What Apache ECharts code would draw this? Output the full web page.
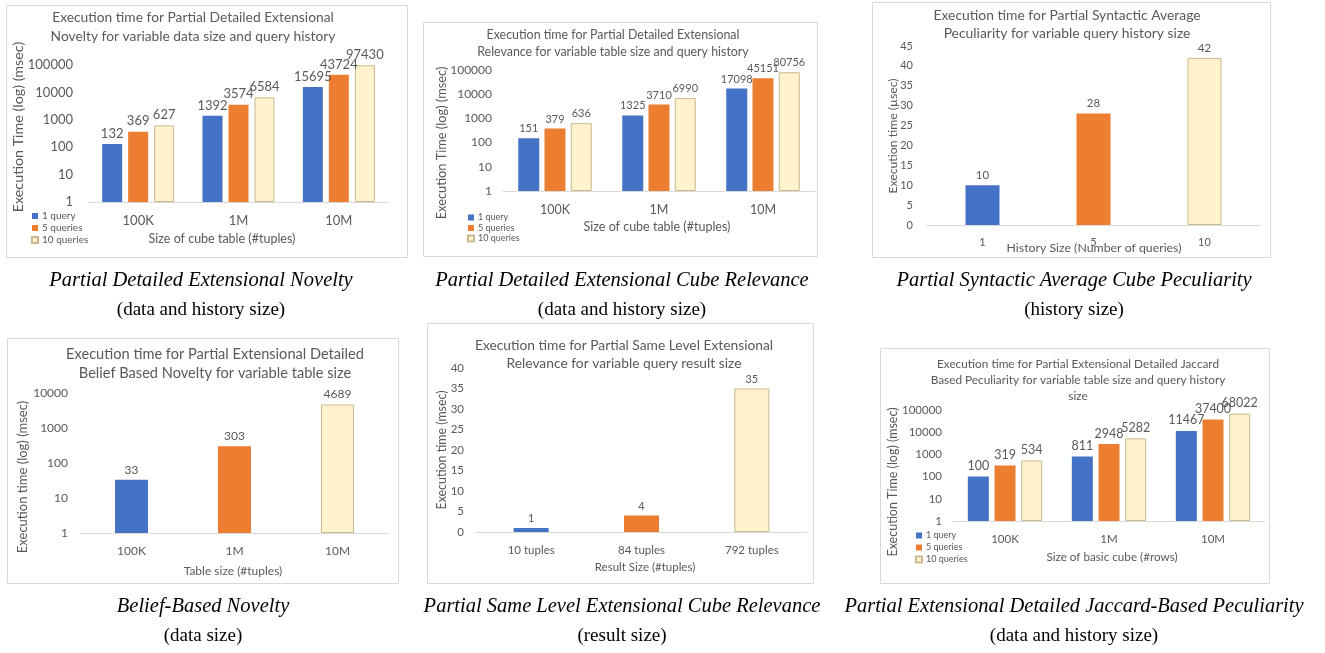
<!DOCTYPE html>
<html>
<head>
<meta charset="utf-8">
<script src="https://cdn.jsdelivr.net/npm/echarts@6/dist/echarts.min.js"></script>
<style>
html,body{margin:0;padding:0;background:#fff;}
#chart{width:1325px;height:653px;}
</style>
</head>
<body>
<div id="chart"></div>
<script>
// ---------- data ----------
const sizeCategories = ['100K', '1M', '10M'];
const seriesNames = ['1 query', '5 queries', '10 queries'];

const noveltyQ1 = [132, 1392, 15695];
const noveltyQ5 = [369, 3574, 43724];
const noveltyQ10 = [627, 6584, 97430];

const relevanceQ1 = [151, 1325, 17098];
const relevanceQ5 = [379, 3710, 45151];
const relevanceQ10 = [636, 6990, 80756];

const historyCategories = ['1', '5', '10'];
const peculiarityValues = [10, 28, 42];

const beliefCategories = ['100K', '1M', '10M'];
const beliefValues = [33, 303, 4689];

const resultCategories = ['10 tuples', '84 tuples', '792 tuples'];
const sameLevelValues = [1, 4, 35];

const jaccardQ1 = [100, 811, 11467];
const jaccardQ5 = [319, 2948, 37400];
const jaccardQ10 = [534, 5282, 68022];

const logTicks = [1, 10, 100, 1000, 10000, 100000];
const linTicks45 = [0, 5, 10, 15, 20, 25, 30, 35, 40, 45];
const linTicks40 = [0, 5, 10, 15, 20, 25, 30, 35, 40];

// ---------- style ----------
const BLUE = '#4472C4', ORANGE = '#ED7D31', CREAM = '#FFF2CC', CREAM_BORDER = '#C9B98E';
const GRAY = '#595959', LINE = '#D9D9D9';
const FONT = 'Lato';
const colors = [BLUE, ORANGE, CREAM];

function itemStyleFor(i) {
  return i === 2 ? { color: CREAM, borderColor: CREAM_BORDER, borderWidth: 1 } : { color: colors[i], borderColor: colors[i], borderWidth: 0 };
}

const grids = [
  { left: 88, top: 65, width: 301, height: 137 },
  { left: 503, top: 70, width: 312, height: 121 },
  { left: 927, top: 46, width: 333, height: 179 },
  { left: 80, top: 393, width: 309, height: 140 },
  { left: 476, top: 368, width: 331, height: 164 },
  { left: 953, top: 410, width: 312, height: 111 }
];

const catFont = [13, 12.5, 11, 12, 11.5, 11.5];
const valFont = [13, 12, 11, 12, 11.5, 11.5];
const valMargin = [15, 11, 14, 12, 12, 11];
const catData = [sizeCategories, sizeCategories, historyCategories, beliefCategories, resultCategories, sizeCategories];

const xAxes = catData.map((d, i) => ({
  type: 'category', gridIndex: i, data: d,
  axisLine: { onZero: false, lineStyle: { color: LINE, width: 1 } },
  axisTick: { show: false },
  axisLabel: { color: GRAY, fontSize: catFont[i], fontFamily: FONT, margin: 12 }
}));

function logAxis(i) {
  return {
    type: 'log', logBase: 10, gridIndex: i, min: logTicks[0], max: logTicks[logTicks.length - 1],
    axisLine: { show: false }, axisTick: { show: false }, splitLine: { show: false },
    axisLabel: { color: GRAY, fontSize: valFont[i], fontFamily: FONT, margin: valMargin[i],
      formatter: v => String(Math.round(v)) }
  };
}
function linAxis(i, ticks) {
  return {
    type: 'value', gridIndex: i, min: ticks[0], max: ticks[ticks.length - 1], interval: ticks[1] - ticks[0],
    axisLine: { show: false }, axisTick: { show: false }, splitLine: { show: false },
    axisLabel: { color: GRAY, fontSize: valFont[i], fontFamily: FONT, margin: valMargin[i] }
  };
}
const yAxes = [logAxis(0), logAxis(1), linAxis(2, linTicks45),
  Object.assign(logAxis(3), { max: 10000 }), linAxis(4, linTicks40), logAxis(5)];

function groupSeries(gi, arrays, labelSize, barWidth, barGap) {
  return arrays.map((arr, k) => ({
    name: seriesNames[k], type: 'bar', xAxisIndex: gi, yAxisIndex: gi,
    data: arr, barWidth: barWidth, barGap: barGap,
    itemStyle: itemStyleFor(k),
    label: { show: true, position: 'top', distance: 4, color: GRAY, fontSize: labelSize, fontFamily: FONT },
    animation: false
  }));
}
function singleSeries(gi, arr, labelSize, barWidth) {
  return [{
    type: 'bar', xAxisIndex: gi, yAxisIndex: gi, barWidth: barWidth,
    data: arr.map((v, k) => ({ value: v, itemStyle: itemStyleFor(k) })),
    label: { show: true, position: 'top', distance: 4, color: GRAY, fontSize: labelSize, fontFamily: FONT },
    animation: false
  }];
}

const series = [].concat(
  groupSeries(0, [noveltyQ1, noveltyQ5, noveltyQ10], 13, 20, '30%'),
  groupSeries(1, [relevanceQ1, relevanceQ5, relevanceQ10], 11, 21, '25%'),
  singleSeries(2, peculiarityValues, 11.5, 34),
  singleSeries(3, beliefValues, 12, 33),
  singleSeries(4, sameLevelValues, 11, 35),
  groupSeries(5, [jaccardQ1, jaccardQ5, jaccardQ10], 12.5, 21, '27%')
);

function legendAt(left, top, fontSize, gap) {
  return {
    data: seriesNames, orient: 'vertical', left: left, top: top, padding: 0,
    icon: 'rect', itemWidth: 6, itemHeight: 6, itemGap: gap, selectedMode: false,
    textStyle: { color: GRAY, fontSize: fontSize, fontFamily: FONT, padding: [0, 0, 0, -1] }
  };
}

// ---------- text helpers ----------
function txt(x, y, text, size, extra) {
  return Object.assign({
    type: 'text', x: x, y: y, silent: true,
    style: Object.assign({ text: text, fontSize: size, fontFamily: FONT, fill: GRAY, align: 'center', verticalAlign: 'middle' }, (extra && extra.style) || {})
  }, extra && extra.rotation !== undefined ? { rotation: extra.rotation } : {});
}
function rect(x1, y1, x2, y2) {
  return { type: 'rect', silent: true, shape: { x: x1 + 0.5, y: y1 + 0.5, width: x2 - x1, height: y2 - y1 },
    style: { fill: 'none', stroke: LINE, lineWidth: 1 }, z: -1 };
}
const ROT = Math.PI / 2;
function caption(x, y, l1, l2) {
  return [
    txt(x, y, l1, 20.5, { style: { fontFamily: 'Liberation Serif', fontStyle: 'italic', fill: '#000' } }),
    txt(x, y + 29, l2, 19, { style: { fontFamily: 'Liberation Serif', fill: '#000' } })
  ];
}

const graphics = [
  rect(6, 5, 407, 257), rect(423, 22, 817, 256), rect(872, 2, 1270, 257),
  rect(7, 338, 398, 583), rect(427, 323, 813, 583), rect(880, 348, 1269, 583),
  // titles
  txt(193, 27.5, 'Execution time for Partial Detailed Extensional\nNovelty for variable data size and query history', 13.8, { style: { lineHeight: 19 } }),
  txt(613, 43.5, 'Execution time for Partial Detailed Extensional\nRelevance for variable table size and query history', 12.4, { style: { lineHeight: 17 } }),
  txt(1067, 25, 'Execution time for Partial Syntactic Average\nPeculiarity for variable query history size', 13.9, { style: { lineHeight: 18 } }),
  txt(215, 363.5, 'Execution time for Partial Extensional Detailed\nBelief Based Novelty for variable table size', 14.6, { style: { lineHeight: 19 } }),
  txt(624, 355, 'Execution time for Partial Same Level Extensional\nRelevance for variable query result size', 13.8, { style: { lineHeight: 18 } }),
  txt(1078, 380, 'Execution time for Partial Extensional Detailed Jaccard\nBased Peculiarity for variable table size and query history\nsize', 11.8, { style: { lineHeight: 16 } }),
  // x axis titles
  txt(222, 239, 'Size of cube table (#tuples)', 12.5),
  txt(657, 227, 'Size of cube table (#tuples)', 12.5),
  txt(1094, 248, 'History Size (Number of queries)', 12.3),
  txt(233, 571, 'Table size (#tuples)', 12),
  txt(645, 567, 'Result Size (#tuples)', 11.5),
  txt(1112, 557, 'Size of basic cube (#rows)', 11.7),
  // y axis titles
  txt(18, 127, 'Execution Time (log) (msec)', 14.3, { rotation: ROT }),
  txt(442, 143, 'Execution Time (log) (msec)', 12.8, { rotation: ROT }),
  txt(893, 136, 'Execution time (µsec)', 12.2, { rotation: ROT }),
  txt(23, 477, 'Execution time (log) (msec)', 13, { rotation: ROT }),
  txt(442, 450, 'Execution time (msec)', 12.4, { rotation: ROT }),
  txt(893, 482, 'Execution Time (log) (msec)', 12.5, { rotation: ROT })
].concat(
  caption(201, 281, 'Partial Detailed Extensional Novelty', '(data and history size)'),
  caption(622, 281, 'Partial Detailed Extensional Cube Relevance', '(data and history size)'),
  caption(1074, 281, 'Partial Syntactic Average Cube Peculiarity', '(history size)'),
  caption(203, 607, 'Belief-Based Novelty', '(data size)'),
  caption(622, 607, 'Partial Same Level Extensional Cube Relevance', '(result size)'),
  caption(1074, 607, 'Partial Extensional Detailed Jaccard-Based Peculiarity', '(data and history size)')
);

const chart = echarts.init(document.getElementById('chart'), null, { renderer: 'canvas' });
chart.setOption({
  animation: false,
  textStyle: { fontFamily: FONT },
  grid: grids,
  xAxis: xAxes,
  yAxis: yAxes,
  legend: [legendAt(31, 211, 10, 2), legendAt(467, 213, 9, 1.5), legendAt(915, 531, 9, 3)],
  series: series,
  graphic: graphics
});
</script>
</body>
</html>
